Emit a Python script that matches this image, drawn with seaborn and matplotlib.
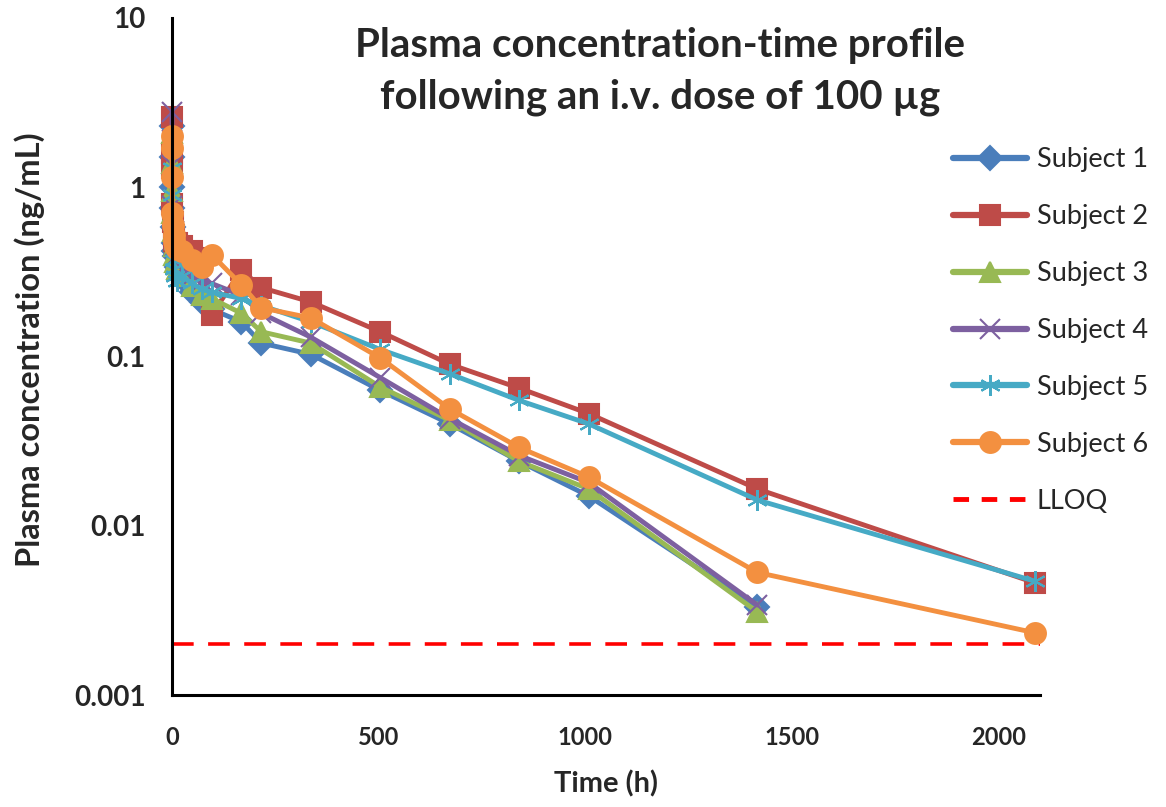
import numpy as np
import pandas as pd
import matplotlib
matplotlib.use("Agg")
import matplotlib.pyplot as plt
import seaborn as sns
from matplotlib.lines import Line2D
from matplotlib.ticker import FixedLocator, FixedFormatter, NullLocator

# ---------------- data ----------------
times = [0.083, 0.25, 0.5, 1, 2, 4, 6, 8, 12, 24, 48, 72, 96, 168, 216,
         336, 504, 672, 840, 1008, 1416, 2088]

subject1 = [2.3, 1.5, 1.0, 0.75, 0.58, 0.47, 0.42, 0.39, 0.34, 0.29, 0.24, 0.21,
            0.19, 0.16, 0.12, 0.103, 0.063, 0.040, 0.024, 0.015, 0.0033, np.nan]
subject2 = [2.6, 1.6, 1.3, 0.8, 0.62, 0.52, 0.48, 0.45, 0.47, 0.45, 0.42, 0.38,
            0.176, 0.325, 0.255, 0.21, 0.14, 0.090, 0.065, 0.046, 0.0165, 0.0046]
subject3 = [2.1, 1.4, 0.95, 0.7, 0.55, 0.45, 0.40, 0.36, 0.33, 0.30, 0.26, 0.23,
            0.22, 0.18, 0.14, 0.12, 0.066, 0.042, 0.024, 0.0165, 0.0031, np.nan]
subject4 = [2.8, 1.9, 1.35, 0.78, 0.66, 0.55, 0.50, 0.45, 0.40, 0.33, 0.30, 0.28,
            0.27, 0.23, 0.18, 0.13, 0.075, 0.043, 0.026, 0.018, 0.0034, np.nan]
subject5 = [1.8, 1.3, 0.9, 0.6, 0.46, 0.37, 0.33, 0.30, 0.28, 0.30, 0.27, 0.25,
            0.24, 0.22, 0.20, 0.16, 0.11, 0.079, 0.055, 0.040, 0.0142, 0.0047]
subject6 = [2.0, 1.7, 1.15, 0.7, 0.60, 0.52, 0.48, 0.45, 0.43, 0.42, 0.37, 0.34,
            0.40, 0.265, 0.194, 0.169, 0.098, 0.049, 0.029, 0.0194, 0.0053, 0.00233]

subjects = ["Subject 1", "Subject 2", "Subject 3", "Subject 4", "Subject 5", "Subject 6"]
series = [subject1, subject2, subject3, subject4, subject5, subject6]
lloq = 0.002

y_ticks = [0.001, 0.01, 0.1, 1, 10]
y_tick_labels = ["0.001", "0.01", "0.1", "1", "10"]
x_ticks = [0, 500, 1000, 1500, 2000]

colors = ["#4A7EBB", "#BE4B48", "#98B954", "#7D60A0", "#46AAC5", "#F39040"]
star = (6, 2, 0)
marker_list = ["D", "s", "^", "x", star, "o"]
marker_sizes = [12, 14, 15, 14, 15, 15]

# ---------------- frame ----------------
rows = []
for name, vals in zip(subjects, series):
    for t, v in zip(times, vals):
        if not np.isnan(v):
            rows.append({"Time": t, "Conc": v, "Subject": name})
df = pd.DataFrame(rows)

sns.set_theme(style="white")
plt.rcParams["font.family"] = ["Lato", "DejaVu Sans"]

fig = plt.figure(figsize=(11.66, 8.07), dpi=100)
ax = fig.add_axes([172 / 1166, 1 - 695 / 807, (1040 - 172) / 1166, (695 - 18) / 807])

sns.lineplot(data=df, x="Time", y="Conc", hue="Subject",
             hue_order=subjects, palette=dict(zip(subjects, colors)),
             linewidth=3.5, legend=False, ax=ax, sort=True, estimator=None)

for line, c, m, ms in zip(ax.lines, colors, marker_list, marker_sizes):
    line.set_marker(m)
    line.set_markeredgecolor(c)
    line.set_markerfacecolor(c)
    line.set_markersize(ms)
    line.set_markeredgewidth(1.5)
    line.set_clip_on(False)
    line.set_solid_capstyle("round")
    line.set_solid_joinstyle("round")

ax.axhline(lloq, color="#FF0000", lw=2.6, dashes=(6, 4), zorder=1)

ax.set_yscale("log")
ax.set_ylim(0.001, 10)
ax.set_xlim(0, 2100)
ax.yaxis.set_major_locator(FixedLocator(y_ticks))
ax.yaxis.set_major_formatter(FixedFormatter(y_tick_labels))
ax.yaxis.set_minor_locator(NullLocator())
ax.set_xticks(x_ticks)
ax.set_xticklabels([str(v) for v in x_ticks])

for s in ["top", "right"]:
    ax.spines[s].set_visible(False)
for s in ["left", "bottom"]:
    ax.spines[s].set_color("black")
    ax.spines[s].set_linewidth(2.2)
ax.tick_params(axis="both", which="major", direction="out", length=7, width=2.2,
               color="black")
ax.tick_params(axis="y", labelsize=20, pad=12)
ax.tick_params(axis="x", labelsize=17, pad=15)
for lab in ax.get_yticklabels() + ax.get_xticklabels():
    lab.set_fontweight("bold")
ax.grid(False)

ax.set_xlabel("Time (h)", fontsize=21, fontweight="bold", labelpad=16)
ax.set_ylabel("Plasma concentration (ng/mL)", fontsize=23.5, fontweight="bold")
ax.yaxis.set_label_coords(-0.146, 0.51)

fig.text(660 / 1166, 1 - 71.5 / 807,
         "Plasma concentration-time profile\nfollowing an i.v. dose of 100 \u00b5g",
         ha="center", va="center", fontsize=29, fontweight="bold", linespacing=1.5)

handles = []
for name, c, m, ms in zip(subjects, colors, marker_list, marker_sizes):
    handles.append(Line2D([], [], color=c, lw=4.5, marker=m, markersize=ms,
                          markerfacecolor=c, markeredgecolor=c, markeredgewidth=1.5,
                          solid_capstyle="round"))
handles.append(Line2D([], [], color="#FF0000", lw=3.5, dashes=(3.2, 2.6)))
leg = fig.legend(handles, subjects + ["LLOQ"], loc="center left",
                 bbox_to_anchor=(953 / 1166, 1 - 330.5 / 807), frameon=False,
                 fontsize=19.5, handlelength=2.75, handletextpad=0.35,
                 labelspacing=1.18, borderaxespad=0, borderpad=0)

fig.savefig("out.png", dpi=100, facecolor="white")
